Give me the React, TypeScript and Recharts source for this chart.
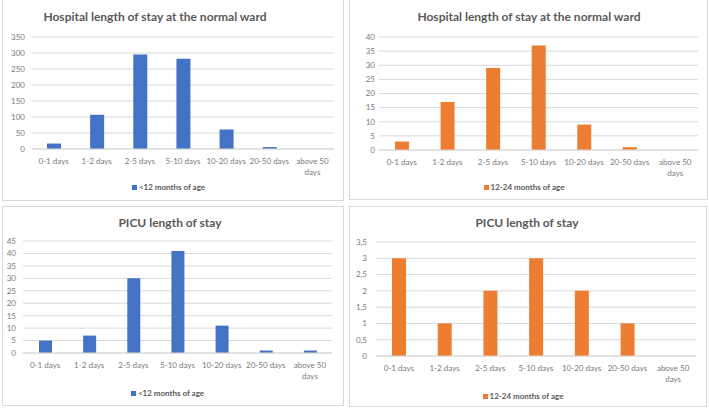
import React from 'react';
import { BarChart, Bar, XAxis, YAxis, CartesianGrid, Legend } from 'recharts';

const categories = ['0-1 days', '1-2 days', '2-5 days', '5-10 days', '10-20 days', '20-50 days', 'above 50 days'];

const wardInfants = [17, 107, 295, 282, 61, 6, 0];
const wardToddlers = [3, 17, 29, 37, 9, 1, 0];
const picuInfants = [5, 7, 30, 41, 11, 1, 1];
const picuToddlers = [3, 1, 2, 3, 2, 1, 0];

const wardInfantsTicks = [0, 50, 100, 150, 200, 250, 300, 350];
const wardToddlersTicks = [0, 5, 10, 15, 20, 25, 30, 35, 40];
const picuInfantsTicks = [0, 5, 10, 15, 20, 25, 30, 35, 40, 45];
const picuToddlersTicks = [0, 0.5, 1, 1.5, 2, 2.5, 3, 3.5];

const titleWard = 'Hospital length of stay at the normal ward';
const titlePicu = 'PICU length of stay';
const seriesInfants = '<12 months of age';
const seriesToddlers = '12-24 months of age';

const BLUE = '#4472C4';
const ORANGE = '#ED7D31';
const TEXT = '#595959';
const TICK = '#7a7a7a';
const GRID = '#D9D9D9';
const FONT = 'Lato, "Open Sans", sans-serif';

const CatTick = (props: any) => {
  const { x, y, payload } = props;
  const label: string = String(payload.value);
  const idx = label.lastIndexOf(' ');
  const lines = label.length > 10 ? [label.slice(0, idx), label.slice(idx + 1)] : [label];
  return (
    <text x={x} y={y} textAnchor="middle" fill={TICK} fontSize={8} fontFamily={FONT}>
      {lines.map((l, i) => (
        <tspan key={i} x={x} dy={i === 0 ? 6.5 : 11}>
          {l}
        </tspan>
      ))}
    </text>
  );
};

const LegendContent = (props: any) => {
  const items = props.payload || [];
  return (
    <div
      style={{
        height: 14,
        display: 'flex',
        alignItems: 'center',
        justifyContent: 'center',
        fontFamily: FONT,
        fontSize: 8,
        fontWeight: 700,
        color: TEXT,
      }}
    >
      {items.map((it: any, i: number) => (
        <span key={i} style={{ display: 'inline-flex', alignItems: 'center' }}>
          <span style={{ width: 5, height: 5, background: it.color, marginRight: 2, display: 'inline-block' }} />
          {it.value}
        </span>
      ))}
    </div>
  );
};

const commaFmt = (v: number) => String(v).replace('.', ',');

type PanelProps = {
  left: number;
  top: number;
  width: number;
  height: number;
  title: string;
  titleX: number;
  titleY: number;
  values: number[];
  ticks: number[];
  seriesName: string;
  color: string;
  yWidth: number;
  yGap: number;
  plotTop: number;
  marginRight: number;
  marginBottom: number;
  xHeight: number;
  barSize: number;
};

const Panel = (p: PanelProps) => {
  const data = categories.map((c, i) => ({ category: c, value: p.values[i] }));
  return (
    <div
      style={{
        position: 'absolute',
        left: p.left,
        top: p.top,
        width: p.width,
        height: p.height,
        boxShadow: '0 0 0 1px #D9D9D9',
        background: '#fff',
      }}
    >
      <div
        style={{
          position: 'absolute',
          left: p.titleX - p.left - 200,
          width: 400,
          top: p.titleY - p.top - 8,
          height: 16,
          lineHeight: '16px',
          textAlign: 'center',
          fontFamily: FONT,
          fontWeight: 700,
          fontSize: 12,
          color: TEXT,
          whiteSpace: 'nowrap',
        }}
      >
        {p.title}
      </div>
      <div style={{ position: 'absolute', left: 0, top: 0 }}>
        <BarChart
          width={p.width}
          height={p.height}
          data={data}
          margin={{ top: p.plotTop, right: p.marginRight, bottom: p.marginBottom, left: 0 }}
        >
          <CartesianGrid vertical={false} stroke={GRID} strokeWidth={1} />
          <XAxis
            dataKey="category"
            interval={0}
            height={p.xHeight}
            axisLine={{ stroke: GRID }}
            tickLine={false}
            tick={<CatTick />}
          />
          <YAxis
            width={p.yWidth}
            domain={[p.ticks[0], p.ticks[p.ticks.length - 1]]}
            ticks={p.ticks}
            interval={0}
            axisLine={false}
            tickLine={false}
            tickSize={p.yGap}
            tickMargin={0}
            tickFormatter={commaFmt}
            tick={{ fill: TICK, fontSize: 8, fontFamily: FONT }}
          />
          <Legend verticalAlign="bottom" content={<LegendContent />} />
          <Bar dataKey="value" name={p.seriesName} fill={p.color} barSize={p.barSize} isAnimationActive={false} />
        </BarChart>
      </div>
    </div>
  );
};

export default function App() {
  return (
    <div style={{ position: 'absolute', left: 0, top: 0, width: 709, height: 410, background: '#fff', overflow: 'hidden' }}>
      <Panel
        left={3} top={0} width={340} height={200}
        title={titleWard} titleX={155} titleY={17}
        values={wardInfants} ticks={wardInfantsTicks}
        seriesName={seriesInfants} color={BLUE}
        yWidth={29} yGap={7} plotTop={37} marginRight={9} marginBottom={6} xHeight={31} barSize={14}
      />
      <Panel
        left={350} top={0} width={357} height={199}
        title={titleWard} titleX={529} titleY={17}
        values={wardToddlers} ticks={wardToddlersTicks}
        seriesName={seriesToddlers} color={ORANGE}
        yWidth={29} yGap={4} plotTop={37} marginRight={9} marginBottom={5} xHeight={30} barSize={14}
      />
      <Panel
        left={3} top={207} width={340} height={198}
        title={titlePicu} titleX={170} titleY={223}
        values={picuInfants} ticks={picuInfantsTicks}
        seriesName={seriesInfants} color={BLUE}
        yWidth={20} yGap={7} plotTop={34} marginRight={11} marginBottom={5} xHeight={33} barSize={13}
      />
      <Panel
        left={350} top={207} width={356} height={199}
        title={titlePicu} titleX={527} titleY={223}
        values={picuToddlers} ticks={picuToddlersTicks}
        seriesName={seriesToddlers} color={ORANGE}
        yWidth={26} yGap={9} plotTop={35} marginRight={10} marginBottom={3} xHeight={33} barSize={14}
      />
    </div>
  );
}
